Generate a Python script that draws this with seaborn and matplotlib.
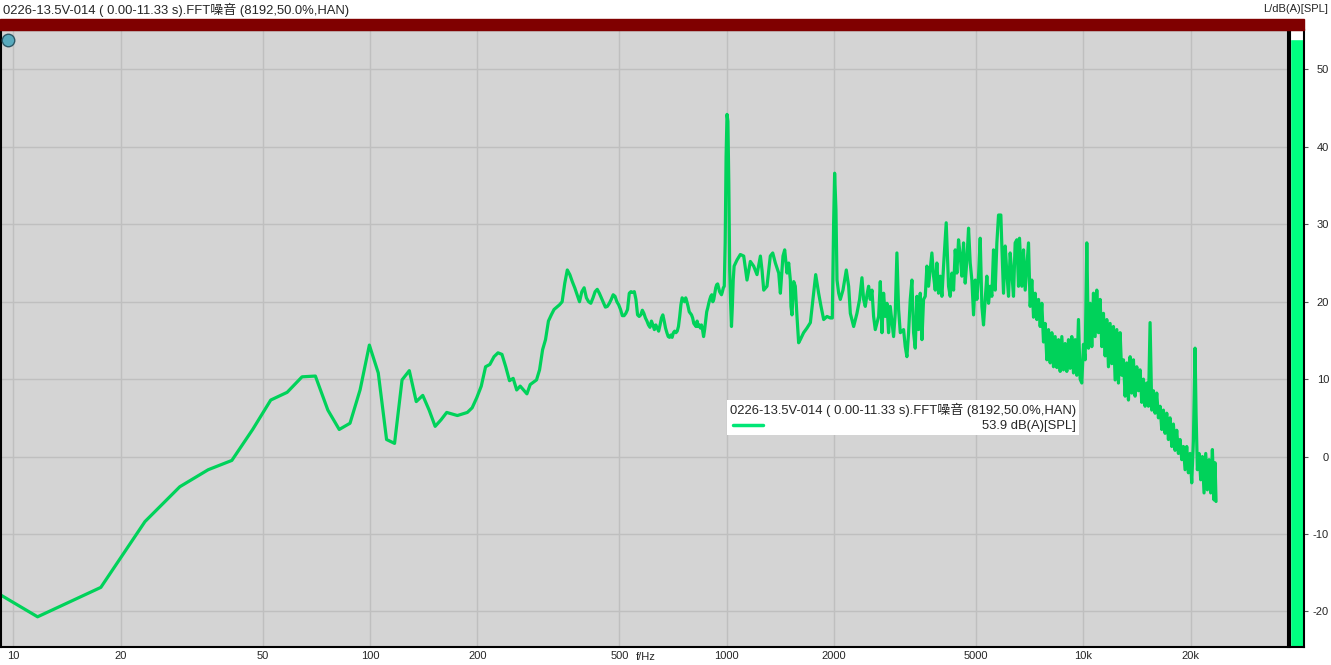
import matplotlib
matplotlib.use("Agg")
import matplotlib.pyplot as plt
import seaborn as sns
import pandas as pd
from matplotlib.patches import Rectangle
from matplotlib.lines import Line2D

# FFT bins below 1 kHz (8192 pt, 48 kHz -> 5.86 Hz spacing)
low_hz = [5.9, 11.7, 17.6, 23.4, 29.3, 35.2, 41.0, 46.9, 52.7, 58.6,
          64.5, 70.3, 76.2, 82.0, 87.9, 93.8, 99.6, 105.5, 111.3, 117.2,
          123.0, 128.9, 134.8, 140.6, 146.5, 152.3, 158.2, 164.1, 169.9, 175.8,
          181.6, 187.5, 193.4, 199.2, 205.1, 210.9, 216.8, 222.7, 228.5, 234.4,
          240.2, 246.1, 252.0, 257.8, 263.7, 269.5, 275.4, 281.3, 287.1, 293.0,
          298.8, 304.7, 310.5, 316.4, 322.3, 328.1, 334.0, 339.8, 345.7, 351.6,
          357.4, 363.3, 369.1, 375.0, 380.9, 386.7, 392.6, 398.4, 404.3, 410.2,
          416.0, 421.9, 427.7, 433.6, 439.5, 445.3, 451.2, 457.0, 462.9, 468.8,
          474.6, 480.5, 486.3, 492.2, 498.0, 503.9, 509.8, 515.6, 521.5, 527.3,
          533.2, 539.1, 544.9, 550.8, 556.6, 562.5, 568.4, 574.2, 580.1, 585.9,
          591.8, 597.7, 603.5, 609.4, 615.2, 621.1, 627.0, 632.8, 638.7, 644.5,
          650.4, 656.3, 662.1, 668.0, 673.8, 679.7, 685.5, 691.4, 697.3, 703.1,
          709.0, 714.8, 720.7, 726.6, 732.4, 738.3, 744.1, 750.0, 755.9, 761.7,
          767.6, 773.4, 779.3, 785.2, 791.0, 796.9, 802.7, 808.6, 814.5, 820.3,
          826.2, 832.0, 837.9, 843.8, 849.6, 855.5, 861.3, 867.2, 873.0, 878.9,
          884.8, 890.6, 896.5, 902.3, 908.2, 914.1, 919.9, 925.8, 931.6, 937.5,
          943.4, 949.2, 955.1, 960.9, 966.8, 972.7, 978.5, 984.4, 990.2, 996.1]
low_db = [-12.6, -20.7, -16.9, -8.4, -3.9, -1.7, -0.5, 3.5, 7.3, 8.3,
          10.3, 10.4, 6.0, 3.5, 4.3, 8.6, 14.4, 10.8, 2.2, 1.7,
          9.9, 11.1, 7.1, 7.9, 6.0, 3.9, 4.75, 5.7, 5.5, 5.3,
          5.5, 5.7, 6.3, 7.6, 9.1, 11.6, 11.9, 12.9, 13.4, 13.2,
          11.6, 9.8, 10.1, 8.6, 9.1, 8.6, 8.1, 9.3, 9.6, 9.9,
          11.2, 13.8, 15.1, 17.5, 18.3, 19.0, 19.3, 19.6, 20.0, 22.4,
          24.1, 23.5, 22.6, 21.8, 20.9, 20.0, 21.3, 21.8, 20.5, 20.0,
          19.8, 20.5, 21.3, 21.6, 21.1, 20.5, 19.9, 19.3, 19.4, 19.8,
          20.3, 20.9, 20.7, 20.0, 19.6, 19.0, 18.2, 18.2, 18.5, 19.0,
          21.1, 21.3, 21.2, 21.3, 20.3, 18.3, 18.1, 18.3, 18.9, 18.5,
          17.9, 17.5, 17.0, 16.7, 17.5, 17.0, 16.4, 17.0, 16.6, 16.2,
          17.0, 17.9, 18.3, 17.5, 16.6, 16.0, 15.5, 15.4, 15.7, 15.4,
          16.0, 16.2, 16.0, 16.2, 16.8, 18.1, 19.6, 20.5, 20.3, 20.0,
          20.5, 20.0, 19.4, 18.7, 18.5, 18.3, 17.9, 17.2, 17.0, 16.8,
          17.5, 16.8, 17.0, 16.6, 17.0, 16.4, 15.5, 16.4, 17.5, 18.7,
          19.2, 19.8, 20.3, 20.7, 20.9, 20.0, 20.3, 21.1, 21.8, 22.2,
          22.3, 21.8, 21.3, 21.1, 20.9, 21.3, 21.8, 22.0, 27.6, 38.8]

mid_hz = [1002.0, 1007.8, 1013.7, 1019.5, 1025.4, 1031.3, 1037.1, 1043.0, 1049.0, 1069,
          1092, 1116, 1140, 1165, 1190, 1216, 1243, 1256, 1270, 1297,
          1325, 1346, 1369, 1399, 1414, 1438, 1454, 1476, 1492, 1508,
          1514, 1524, 1541, 1557, 1574, 1591, 1608, 1643, 1679, 1716,
          1753, 1776, 1810, 1838, 1870, 1910, 1952, 1977, 1994, 2007,
          2024, 2038, 2060, 2082, 2118, 2141, 2164, 2197, 2221, 2269,
          2318, 2358, 2394, 2420, 2446, 2473, 2499, 2526, 2554, 2581,
          2609, 2666, 2695, 2724, 2753, 2783, 2813, 2843, 2874, 2936,
          2968, 3000, 3033, 3066, 3132, 3166, 3200, 3235, 3270, 3305,
          3341, 3377, 3413, 3451, 3488, 3526, 3563, 3602,
          3641, 3680, 3720, 3760, 3801, 3842, 3883, 3925, 3968, 4011,
          4054, 4124, 4187, 4232, 4278, 4325, 4371, 4418, 4466, 4514,
          4563, 4612, 4662, 4713, 4764, 4815, 4867, 4920, 4973, 5027,
          5081, 5136, 5192, 5247, 5304, 5361, 5420, 5478, 5537, 5597,
          5658, 5719, 5781, 5868, 5906, 5970, 6035, 6100, 6166, 6232,
          6300, 6367, 6436, 6506, 6577, 6619]
mid_db = [44.2, 43.3, 35.3, 24.1, 20.0, 16.8, 19.4, 22.8, 24.6, 25.4,
          26.1, 25.9, 22.8, 25.2, 24.6, 23.5, 25.9, 24.1, 21.5, 22.0,
          25.9, 26.3, 25.0, 23.7, 21.1, 25.9, 26.7, 23.7, 25.0, 22.8,
          19.4, 18.3, 22.6, 22.0, 18.1, 14.7, 15.1, 16.0, 16.6, 17.3,
          21.1, 23.5, 21.1, 19.4, 17.7, 18.1, 17.9, 17.9, 30.2, 36.6,
          31.9, 22.8, 21.1, 20.3, 21.5, 22.8, 24.1, 22.0, 18.5, 16.8,
          18.5, 20.3, 23.1, 20.3, 19.4, 20.9, 22.0, 20.3, 21.5, 18.1,
          16.4, 18.1, 22.6, 16.0, 21.1, 18.1, 19.8, 16.0, 19.4, 15.5,
          18.5, 26.3, 19.0, 16.0, 16.4, 14.2, 12.9, 16.0, 20.3, 22.8,
          16.0, 14.0, 20.7, 16.4, 21.1, 15.1, 20.3, 20.7,
          24.6, 22.0, 24.1, 26.3, 23.3, 21.5, 25.0, 21.1, 23.3, 20.7,
          24.6, 30.2, 22.0, 20.7, 23.7, 21.5, 26.7, 23.7, 28.0, 25.9,
          23.3, 27.6, 22.4, 25.4, 29.5, 25.0, 22.8, 18.3, 22.8, 20.3,
          23.3, 28.2, 19.4, 17.0, 20.3, 23.3, 19.8, 22.0, 20.7, 26.7,
          21.5, 27.6, 31.2, 31.2, 27.2, 21.1, 27.2, 23.7, 20.7, 26.3,
          23.7, 20.7, 27.6, 28.0, 22.0, 28.2]

# 6.7 kHz - 23.5 kHz, top / bottom of the band in turn
high_hz = [6720, 6793, 6866, 7015, 7091, 7167, 7246, 7323, 7403, 7483,
           7564, 7645, 7728, 7811, 7896, 7981, 8068, 8155, 8243, 8332,
           8422, 8513, 8605, 8698, 8792, 8887, 8983, 9080, 9178, 9277,
           9378, 9479, 9581, 9685, 9790, 9895, 10002, 10111, 10220, 10331,
           10442, 10555, 10669, 10785, 10901, 11019, 11138, 11258, 11380, 11503,
           11627, 11753, 11880, 12009, 12138, 12270, 12402, 12536, 12671, 12809,
           12947, 13087, 13228, 13372, 13515, 13662, 13809, 13958, 14109, 14261,
           14416, 14571, 14729, 14888, 15048, 15213, 15376, 15543, 15711, 15881,
           16052, 16226, 16401, 16579, 16757, 16939, 17122, 17307, 17493, 17684,
           17874, 18068, 18262, 18459, 18659, 18862, 19065, 19272, 19479, 19690,
           19902, 20117, 20335, 20554, 20687, 20865, 21092, 21320, 21550, 21782,
           22019, 22256, 22497, 22739, 22986, 23233, 23384, 23535]
high_db = [22.0, 26.7, 21.5, 27.6, 19.4, 22.8, 18.0, 21.1, 17.7, 20.3,
           16.8, 19.8, 14.8, 17.2, 12.5, 16.4, 12.1, 16.0, 11.6, 15.5,
           11.5, 15.1, 11.0, 15.5, 11.2, 14.6, 11.0, 15.1, 11.4, 15.5,
           10.8, 15.1, 10.5, 17.7, 10.0, 9.5, 14.5, 12.5, 27.6, 14.0,
           19.8, 14.2, 21.1, 15.5, 21.5, 16.0, 20.3, 14.2, 18.5, 13.0,
           17.7, 11.6, 17.2, 12.0, 16.8, 9.9, 16.4, 9.5, 16.0, 10.5,
           12.5, 7.8, 12.1, 7.3, 12.9, 8.2, 12.5, 7.8, 11.6, 8.5,
           11.2, 7.0, 10.0, 6.5, 9.5, 6.5, 17.3, 6.0, 8.5, 5.6,
           8.2, 5.0, 6.5, 3.5, 6.0, 3.0, 5.6, 2.2, 5.0, 1.3,
           4.2, 0.8, 3.4, 0.4, 2.2, -0.4, 1.3, -1.7, 1.3, -2.1,
           0.4, -3.4, 2.0, 14.0, 5.6, -1.7, 0.4, -3.0, 0.0, -4.7,
           0.4, -4.3, -0.4, -4.7, 0.9, -5.6, -0.8, -5.8]

total_level = 53.9
xticks = [10, 20, 50, 100, 200, 500, 1000, 2000, 5000, 10000, 20000]
xtick_labels = ['10', '20', '50', '100', '200', '500', '1000', '2000', '5000', '10k', '20k']
yticks = [-20, -10, 0, 10, 20, 30, 40, 50]
title = '0226-13.5V-014 ( 0.00-11.33 s).FFT噪音 (8192,50.0%,HAN)'
legend_level = '53.9 dB(A)[SPL]'

spec = pd.DataFrame({'freq': low_hz + mid_hz + high_hz,
                     'level': low_db + mid_db + high_db})

sns.set_style("white")
plt.rcParams['font.family'] = ['Liberation Sans', 'Noto Sans CJK SC']
plt.rcParams['axes.unicode_minus'] = False

W, H = 1331, 665
def fx(px):
    return px / W
def fy(py):
    return 1 - py / H

line_col = '#00d25a'
ylo, yhi = -24.6, 55.1

fig = plt.figure(figsize=(W / 100, H / 100), dpi=100)
ax = fig.add_axes([fx(1), fy(647), fx(1288) - fx(1), fy(30) - fy(647)])
ax.set_facecolor('#d4d4d4')
ax.set_xscale('log')
sns.lineplot(data=spec, x='freq', y='level', ax=ax, color=line_col, lw=2.3,
             estimator=None, sort=False, solid_joinstyle='round')
ax.set_xlim(9.24, 37450)
ax.set_ylim(ylo, yhi)
ax.set_xticks(xticks)
ax.set_xticklabels(xtick_labels)
ax.minorticks_off()
ax.set_yticks(yticks)
ax.grid(True, color='#bfbfbf', lw=1)
ax.set_axisbelow(True)
ax.set_xlabel('')
ax.set_ylabel('')
ax.tick_params(axis='x', length=0, pad=3, labelsize=8)
ax.tick_params(axis='y', left=False, labelleft=False)
for s in ax.spines.values():
    s.set_color('black')
    s.set_linewidth(1.5)

# status icon
ax.plot([0.0054], [0.9838], 'o', transform=ax.transAxes, ms=9,
        mfc='#58aabd', mec='#2c5866', mew=1, clip_on=False, zorder=5)

# level bar at right
ax2 = fig.add_axes([fx(1290), fy(647), fx(1304) - fx(1290), fy(30) - fy(647)])
ax2.set_facecolor('white')
ax2.bar([0], [total_level - ylo], bottom=ylo, width=1, color='#00ff80')
ax2.set_xlim(-0.5, 0.5)
ax2.set_ylim(ylo, yhi)
ax2.set_yticks(yticks)
ax2.tick_params(left=False, labelleft=False, bottom=False, labelbottom=False,
                right=True, labelright=True, length=3, pad=15, labelsize=8,
                color='#555555')
for lbl in ax2.get_yticklabels():
    lbl.set_horizontalalignment('right')
for s in ax2.spines.values():
    s.set_color('black')
    s.set_linewidth(1.5)

# header strip
fig.add_artist(Rectangle((0, fy(30)), fx(1304), fy(19) - fy(30),
                         transform=fig.transFigure, color='#800000', zorder=3))
fig.text(fx(3), fy(9.5), title, fontsize=9.4, ha='left', va='center')
fig.text(fx(1328), fy(9), 'L/dB(A)[SPL]', fontsize=8, ha='right', va='center')
fig.text(fx(636), fy(657), 'f/Hz', fontsize=8, ha='left', va='center')

# legend box
fig.add_artist(Rectangle((fx(727), fy(435)), fx(1079) - fx(727), fy(400) - fy(435),
                         transform=fig.transFigure, facecolor='white',
                         edgecolor='none', zorder=5))
fig.text(fx(730), fy(410), title, fontsize=9.4, ha='left', va='center', zorder=6)
fig.add_artist(Line2D([fx(733), fx(763)], [fy(425), fy(425)],
                      transform=fig.transFigure, color='#00e676', lw=2.5, zorder=6))
fig.text(fx(1076), fy(426), legend_level, fontsize=9.4, ha='right', va='center', zorder=6)

fig.savefig('out.png', dpi=100)
